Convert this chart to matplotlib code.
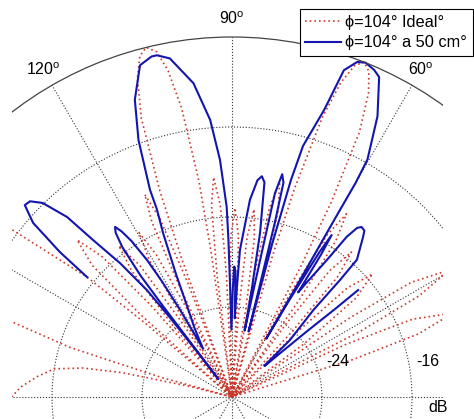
import numpy as np
import matplotlib
matplotlib.use("Agg")
import matplotlib.pyplot as plt

plt.rcParams['font.family'] = ['Liberation Sans', 'DejaVu Sans']
plt.rcParams['mathtext.default'] = 'regular'

# ideal pattern (phi = 104 deg), angle in degrees, level in dB
ideal_ang = [180, 177.3, 174, 171, 169, 167.5, 166, 165.5,
             164.5, 163, 161.2, 158, 154.5, 151, 147.5, 145, 142.7, 140.4, 139.6, 139,
             138, 136.7, 134.6, 132.8, 131.5, 130.5,
             129.6, 128.5, 126.8, 125.0, 123.9, 123,
             122.2, 121.1, 119.5, 118.0, 116.9, 116.1,
             115.4, 114.6, 113.3, 112.0, 111.2, 110.5,
             110, 109.3, 108, 106.5, 105.1, 103.8, 102.3, 101.1, 99.9, 98.7, 98.2, 97.7,
             97.0, 96.1, 94.8, 93.5, 92.6, 91.9,
             91.2, 90.4, 89.1, 87.7, 86.9, 86.2,
             85.5, 84.6, 83.3, 82.0, 81.1, 80.4,
             79.7, 78.8, 77.5, 76.1, 75.2, 74.5,
             74, 73.3, 72.1, 70.9, 69.7, 68.5, 67.2, 65.8, 64.3, 63, 62.2, 61.5,
             60.7, 59.6, 58, 56.4, 55.3, 54.5,
             53.5, 52.3, 50.5, 48.7, 47.5, 46.5,
             45.1, 43.4, 41.2, 38.6, 36.4, 35,
             33.9, 32.6, 30.3, 28.4, 27.1, 26,
             24.8, 23.3, 20.8, 18.7, 17.2, 16, 0]
ideal_db = [-12.4, -13.2, -14.6, -16, -18.5, -22, -28, -40,
            -25.4, -17, -11.6, -5.5, -1.8, -0.6, -1.8, -4, -7.6, -15.3, -22, -40,
            -21.1, -14.9, -12.4, -14.9, -21.1, -40,
            -23.9, -17.7, -15.2, -17.7, -23.9, -40,
            -23.9, -17.7, -15.2, -17.7, -23.9, -40,
            -21.1, -14.9, -12.4, -14.9, -21.1, -40,
            -19, -12.6, -5.9, -2.4, -0.6, 0, -0.6, -2.4, -5.9, -12.6, -19, -40,
            -21.1, -14.9, -12.4, -14.9, -21.1, -40,
            -23.9, -17.7, -15.2, -17.7, -23.9, -40,
            -23.9, -17.7, -15.2, -17.7, -23.9, -40,
            -21.1, -14.9, -12.4, -14.9, -21.1, -40,
            -19, -12.6, -5.9, -2.4, -0.6, 0, -0.6, -2.4, -5.9, -12.6, -19, -40,
            -21.5, -15.3, -12.8, -15.3, -21.5, -40,
            -24, -17.8, -15.3, -17.8, -24, -40,
            -24.1, -17.9, -15.4, -17.9, -24.1, -40,
            -19.3, -13.1, -9.6, -13.1, -19.3, -40,
            -20.7, -14.5, -11, -14.5, -20.7, -40, -40]

# measured pattern at 50 cm
meas_ang = [140.4, 139.9, 138.8, 137.2, 135.9, 134.3, 132.5, 131.5, 129.9, 128.5, 128.0, 127.6, 127.4,
            127.2, 127.0, 126.2, 125.3, 124.5, 123.7, 122.8, 121.8, 121.2, 120.8, 121.0,
            118.5, 116.3, 114.5, 112.8, 111.8, 111.6, 110.0, 108.1, 105.5, 103.3, 102.4, 100.4,
            97.0, 94.5, 92.9, 91.6, 91.3, 91.0, 90.5,
            89.6, 89.0, 88.4, 88.0, 87.4,
            86.9, 84.8, 83.3, 82.3, 81.4, 80.3, 79.6, 79.2,
            78.6, 78.4, 78.1, 77.3, 76.5, 76.2, 76.0, 75.8,
            75.3, 74.8, 74.2, 72.2, 71.1, 69.5, 68.2, 66.5, 65.3, 62.6, 60.3, 60.0, 60.0, 59.8, 59.6,
            59.4, 58.9, 58.4, 58.0, 57.7,
            57.0, 55.3, 54.4, 53.5, 52.7, 51.5, 50.7, 47.7, 47.3, 46.9, 44.5, 44.0,
            43.5, 42.3, 41.2, 40.5, 40.3]
meas_db = [-15.3, -12.0, -8.5, -6.9, -7.0, -7.9, -10.3, -13.4, -16.5, -19.9, -23, -27, -30,
           -22, -18.5, -15.5, -14.1, -13.65, -14.3, -15.5, -17.7, -20, -23, -27,
           -25, -23, -20, -16.2, -14, -12.2, -7.7, -4.2, -1.4, -0.9, -0.9, -1.4,
           -3.9, -7.3, -10.9, -15.1, -18, -22, -26,
           -22.5, -20.4, -20.8, -25, -22,
           -18.9, -14.4, -12.6, -12.2, -12.7, -17.2, -22.3, -26,
           -22, -19.6, -13.5, -11.7, -12.4, -16, -22, -26,
           -18, -12, -8.8, -5.2, -1.3, -0.2, 0, -0.3, -0.7, -3.9, -7.7, -10, -14, -20, -26,
           -22, -17, -15.1, -17, -21,
           -20, -17.2, -14.5, -13.3, -13, -13.1, -13.6, -15.5, -17.8, -21.4, -24.8, -28,
           -28, -26.2, -23, -20, -17.3]

labels = ['\u03d5=104\u00b0 Ideal\u00b0', '\u03d5=104\u00b0 a 50 cm\u00b0']

W, H = 474, 419
R = 360.0
ox, oy = 232, 22

fig = plt.figure(figsize=(W / 100, H / 100), dpi=100)
ax = fig.add_axes([(ox - R) / W, (oy - R) / H, 2 * R / W, 2 * R / H], projection='polar')

th_i = np.deg2rad(ideal_ang)
th_m = np.deg2rad(meas_ang)
l1, = ax.plot(th_i, np.clip(ideal_db, -32, 0), color='#cc3a2e', lw=1.2,
              linestyle=(0, (1, 1.8)), label=labels[0])
l2, = ax.plot(th_m, np.clip(meas_db, -32, 0), color='#1414b0', lw=1.5, label=labels[1])

ax.set_rlim(-32, 0)
ax.set_yticks([-24, -16, -8])
ax.set_yticklabels([])
ax.set_xticks(np.deg2rad(np.arange(0, 360, 30)))
ax.set_xticklabels([])
ax.grid(True, linestyle=':', color='#333333', linewidth=0.8)
ax.spines['polar'].set_color('#444444')
ax.spines['polar'].set_linewidth(0.9)

# the original view is cut off left and right of the plot
clip = plt.Rectangle((12 / W, 0), (443 - 12) / W, 1, transform=fig.transFigure)
sp = ax.spines['polar']
sp.set_clip_on(True)
for art in [l1, l2, sp] + ax.xaxis.get_gridlines() + ax.yaxis.get_gridlines():
    art.set_clip_path(clip)

for a in [60, 90, 120]:
    ax.text(np.deg2rad(a), 1.6, '%d$^{o}$' % a, ha='center', va='center', fontsize=11.5)
ax.text(np.deg2rad(18.5), -22.06, '-24', ha='center', va='center', fontsize=11.5)
ax.text(np.deg2rad(10.3), -14.34, '-16', ha='center', va='center', fontsize=11.5)
ax.text(np.deg2rad(-2.8), -13.67, 'dB', ha='center', va='center', fontsize=11.5)

leg = fig.legend(loc='upper right', bbox_to_anchor=(473 / W, 1 - 9 / H), borderaxespad=0,
                 fontsize=11.8, fancybox=False, framealpha=1, edgecolor='black',
                 handlelength=2.2, labelspacing=0.35, borderpad=0.35, handletextpad=0.25)
leg.get_frame().set_linewidth(0.8)

fig.savefig('out.png', dpi=100)
